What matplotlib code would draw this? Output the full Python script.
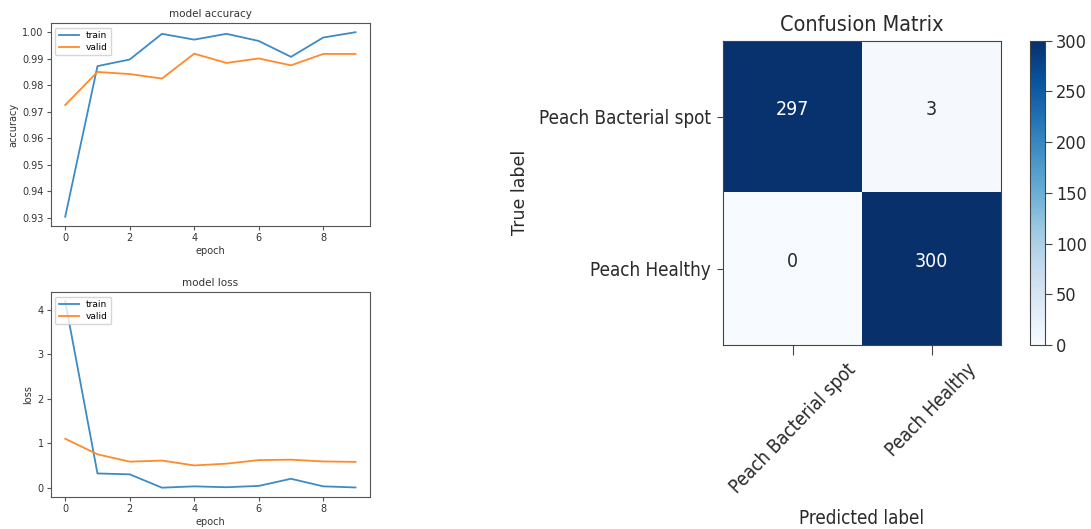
import numpy as np
import matplotlib
matplotlib.use("Agg")
import matplotlib.pyplot as plt

# Training history
epochs = list(range(10))
train_acc = [0.9303, 0.9872, 0.9897, 0.9994, 0.9972, 0.9994, 0.9967, 0.9907, 0.9980, 1.0000]
valid_acc = [0.9725, 0.9850, 0.9842, 0.9825, 0.9919, 0.9884, 0.9901, 0.9875, 0.9918, 0.9918]
train_loss = [4.19, 0.32, 0.30, 0.00, 0.03, 0.01, 0.04, 0.20, 0.03, 0.005]
valid_loss = [1.10, 0.75, 0.585, 0.61, 0.50, 0.54, 0.62, 0.63, 0.59, 0.58]

# Confusion matrix
class_names = ["Peach Bacterial spot", "Peach Healthy"]
cm = np.array([[297, 3],
               [0, 300]])
cbar_ticks = [0, 50, 100, 150, 200, 250, 300]

W, H = 1091, 529
fig = plt.figure(figsize=(W / 100, H / 100), dpi=100)


def box(l, t, r, b):
    """Axes rectangle from pixel edges (origin top-left)."""
    return [l / W, 1 - b / H, (r - l) / W, (b - t) / H]


small = 7
tcol = "#333333"
blue, orange = "#3d8bc4", "#ff8a2a"

# accuracy curve
ax1 = fig.add_axes(box(50.7, 23, 370, 226))
ax1.plot(epochs, train_acc, color=blue, lw=1.3, label="train")
ax1.plot(epochs, valid_acc, color=orange, lw=1.3, label="valid")
ax1.set_title("model accuracy", fontsize=7.5, color=tcol, pad=4)
ax1.set_xlabel("epoch", fontsize=small, color=tcol, labelpad=2)
ax1.set_ylabel("accuracy", fontsize=small, color=tcol, labelpad=3)
ax1.tick_params(labelsize=small, labelcolor=tcol, length=3, pad=2, color="#555555")
ax1.set_xticks([0, 2, 4, 6, 8])
acc_ticks = np.round(np.arange(0.93, 1.0001, 0.01), 2)
ax1.set_yticks(acc_ticks)
ax1.set_yticklabels([f"{v:.2f}" for v in acc_ticks])
ax1.legend(loc="upper left", fontsize=6.5, handlelength=2.2, borderpad=0.4,
           labelspacing=0.3)
for s in ax1.spines.values():
    s.set_color("#555555")

# loss curve
ax2 = fig.add_axes(box(50.7, 292, 370, 497))
ax2.plot(epochs, train_loss, color=blue, lw=1.3, label="train")
ax2.plot(epochs, valid_loss, color=orange, lw=1.3, label="valid")
ax2.set_title("model loss", fontsize=7.5, color=tcol, pad=4)
ax2.set_xlabel("epoch", fontsize=small, color=tcol, labelpad=2)
ax2.set_ylabel("loss", fontsize=small, color=tcol, labelpad=3)
ax2.tick_params(labelsize=small, labelcolor=tcol, length=3, pad=2, color="#555555")
ax2.set_xticks([0, 2, 4, 6, 8])
ax2.set_yticks([0, 1, 2, 3, 4])
ax2.legend(loc="upper left", fontsize=6.5, handlelength=2.2, borderpad=0.4,
           labelspacing=0.3)
for s in ax2.spines.values():
    s.set_color("#555555")

# confusion matrix
dark = "#2a2a2a"
cond = dict(fontstretch="condensed")
ax3 = fig.add_axes(box(723, 40.7, 1001, 345))
im = ax3.imshow(cm, cmap="Blues", vmin=0, vmax=300, aspect="auto",
                interpolation="nearest")
ax3.set_title("Confusion Matrix", fontsize=15.5, color=dark, pad=7, **cond)
ax3.set_xticks(range(len(class_names)))
ax3.set_yticks(range(len(class_names)))
ax3.set_xticklabels(class_names, rotation=46, ha="center",
                    fontsize=13.5, color=dark, **cond)
ax3.set_yticklabels(class_names, fontsize=13.5, color=dark, **cond)
ax3.tick_params(axis="x", length=7, color="#444444", pad=4)
ax3.tick_params(axis="y", length=4.5, color="#444444", pad=4)
thresh = cm.max() / 2.0
for i in range(cm.shape[0]):
    for j in range(cm.shape[1]):
        ax3.annotate(str(cm[i, j]), xy=(j, i), xytext=(0, 5),
                     textcoords="offset points", ha="center", va="center",
                     fontsize=14, color="white" if cm[i, j] > thresh else dark,
                     **cond)
ax3.set_ylabel("True label", fontsize=12.5, color=dark, labelpad=7)
ax3.set_xlabel("Predicted label", fontsize=13.5, color=dark, labelpad=8.5, **cond)
for s in ax3.spines.values():
    s.set_color("#444444")

cax = fig.add_axes(box(1030, 40.7, 1045, 345))
cb = fig.colorbar(im, cax=cax, ticks=cbar_ticks)
cb.ax.tick_params(length=5, color="#444444", pad=3)
for lab in cb.ax.get_yticklabels():
    lab.set_fontsize(13)
    lab.set_color(dark)
    lab.set_fontstretch("condensed")
cb.outline.set_edgecolor("#444444")

fig.savefig("out.png", dpi=100)
